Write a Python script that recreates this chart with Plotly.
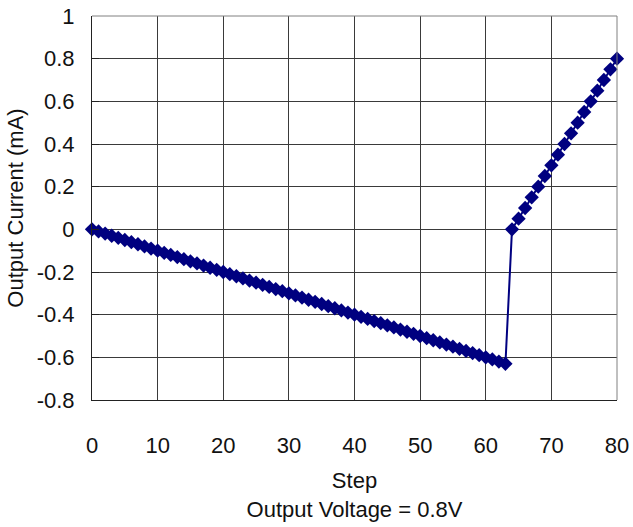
import plotly.graph_objects as go

# Step index of the DAC sweep
steps = [
    0, 1, 2, 3, 4, 5, 6, 7, 8, 9,
    10, 11, 12, 13, 14, 15, 16, 17, 18, 19,
    20, 21, 22, 23, 24, 25, 26, 27, 28, 29,
    30, 31, 32, 33, 34, 35, 36, 37, 38, 39,
    40, 41, 42, 43, 44, 45, 46, 47, 48, 49,
    50, 51, 52, 53, 54, 55, 56, 57, 58, 59,
    60, 61, 62, 63, 64, 65, 66, 67, 68, 69,
    70, 71, 72, 73, 74, 75, 76, 77, 78, 79,
    80,
]

# Output current in mA at each step
current_ma = [
    0.00, -0.01, -0.02, -0.03, -0.04, -0.05, -0.06, -0.07, -0.08, -0.09,
    -0.10, -0.11, -0.12, -0.13, -0.14, -0.15, -0.16, -0.17, -0.18, -0.19,
    -0.20, -0.21, -0.22, -0.23, -0.24, -0.25, -0.26, -0.27, -0.28, -0.29,
    -0.30, -0.31, -0.32, -0.33, -0.34, -0.35, -0.36, -0.37, -0.38, -0.39,
    -0.40, -0.41, -0.42, -0.43, -0.44, -0.45, -0.46, -0.47, -0.48, -0.49,
    -0.50, -0.51, -0.52, -0.53, -0.54, -0.55, -0.56, -0.57, -0.58, -0.59,
    -0.60, -0.61, -0.62, -0.63, 0.00, 0.05, 0.10, 0.15, 0.20, 0.25,
    0.30, 0.35, 0.40, 0.45, 0.50, 0.55, 0.60, 0.65, 0.70, 0.75,
    0.80,
]

x_ticks = [0, 10, 20, 30, 40, 50, 60, 70, 80]
y_ticks = [-0.8, -0.6, -0.4, -0.2, 0, 0.2, 0.4, 0.6, 0.8, 1]
y_tick_text = ["-0.8", "-0.6", "-0.4", "-0.2", "0", "0.2", "0.4", "0.6", "0.8", "1"]

NAVY = "#000080"
FONT = "Liberation Sans, Arial, sans-serif"
FS = 22

fig = go.Figure(
    go.Scatter(
        x=steps,
        y=current_ma,
        mode="lines+markers",
        line=dict(color=NAVY, width=2),
        marker=dict(symbol="diamond", size=11, color=NAVY),
        showlegend=False,
        cliponaxis=False,
    )
)

fig.update_layout(
    width=633,
    height=527,
    margin=dict(l=92, r=16, t=16, b=127),
    paper_bgcolor="white",
    plot_bgcolor="white",
    font=dict(family=FONT, size=FS, color="#111111"),
)

fig.update_xaxes(
    range=[0, 80],
    tickvals=x_ticks,
    ticks="",
    showgrid=True,
    gridcolor="#3a3a3a",
    gridwidth=1,
    zeroline=False,
    showline=True,
    linecolor="#222222",
    linewidth=1,
    automargin=False,
    ticklabelstandoff=26,
    tickfont=dict(size=FS),
    title=dict(text="Step<br>Output Voltage = 0.8V", font=dict(size=FS), standoff=15),
)

fig.update_yaxes(
    range=[-0.8, 1],
    tickvals=y_ticks,
    ticktext=y_tick_text,
    ticks="inside",
    ticklen=7,
    tickcolor="#222222",
    showgrid=True,
    gridcolor="#3a3a3a",
    gridwidth=1,
    zeroline=False,
    showline=True,
    linecolor="#222222",
    linewidth=1,
    automargin=False,
    ticklabelstandoff=12,
    tickfont=dict(size=FS),
    title=dict(text="Output Current (mA)", font=dict(size=FS), standoff=6),
)

# Light frame on the top and right edges of the plot area
fig.add_shape(type="line", xref="paper", yref="paper", x0=0, x1=1, y0=1, y1=1,
              line=dict(color="#808080", width=1))
fig.add_shape(type="line", xref="paper", yref="paper", x0=1, x1=1, y0=0, y1=1,
              line=dict(color="#808080", width=1))

fig.write_html("out.html")
